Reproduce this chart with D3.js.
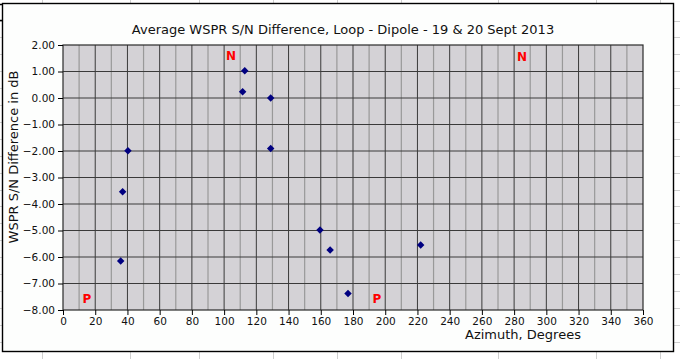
<!DOCTYPE html>
<head>
    <meta charset="UTF-8" />
    <script src="https://d3js.org/d3.v7.min.js"></script>
    <title>WSPR S/N Difference</title>
    <style>
        body { margin: 0; background: #ffffff; }
        text { font-family: "DejaVu Sans", sans-serif; fill: #111; }
    </style>
</head>
<body>
    <div id="my_dataviz"></div>
    <script>
        // data
        const azimuth = [35.8, 37.0, 40.3, 112.8, 111.5, 128.9, 128.9, 159.5, 165.8, 176.9, 222.0]
        const snDiff = [-6.15, -3.54, -1.99, 1.03, 0.24, 0.0, -1.91, -4.98, -5.74, -7.38, -5.55]
        const noteText = ['N', 'N', 'P', 'P']
        const noteAz = [104.3, 284.9, 14.9, 194.9]
        const noteVal = [1.55, 1.52, -7.6, -7.6]
        const xTicks = d3.range(0, 361, 20)
        const yTicks = d3.range(-8, 2.01, 1)

        const W = 680, H = 359
        const margin = { top: 45, right: 37, bottom: 49, left: 63 },
            width = W - margin.left - margin.right,
            height = H - margin.top - margin.bottom

        const root = d3.select('#my_dataviz').append('svg')
            .attr('width', W).attr('height', H)

        // spreadsheet cells peeking out behind the chart frame
        const sheetCols = [42, 130, 199, 273, 337, 401, 498, 596, 660]
        root.append('g').selectAll('line').data(sheetCols).join('line')
            .attr('x1', d => d + 0.5).attr('x2', d => d + 0.5)
            .attr('y1', 0).attr('y2', H)
            .style('stroke', '#cfcfcf')
        root.append('g').selectAll('line').data(d3.range(20.5, H, 16.9)).join('line')
            .attr('x1', 0).attr('x2', W)
            .attr('y1', d => Math.round(d) + 0.5).attr('y2', d => Math.round(d) + 0.5)
            .style('stroke', '#cfcfcf')

        // chart frame
        root.append('rect')
            .attr('x', 2.5).attr('y', 3.5)
            .attr('width', 671).attr('height', 348)
            .style('fill', '#fdfefd')
            .style('stroke', '#000').style('stroke-width', 1.4)
        root.append('path')
            .attr('d', 'M0,4.5H3M0,20.5H3')
            .style('stroke', '#000').style('stroke-width', 1.5)

        const svg = root.append('g')
            .attr('transform', `translate(${margin.left}, ${margin.top})`)

        const x = d3.scaleLinear().domain([0, 360]).range([0, width])
        const y = d3.scaleLinear().domain([-8, 2]).range([height, 0])

        svg.append('rect')
            .attr('width', width).attr('height', height)
            .style('fill', '#d4d2d6')

        // minor vertical grid every 10 degrees
        svg.append('g').selectAll('line').data(d3.range(10, 360, 20)).join('line')
            .attr('x1', d => x(d)).attr('x2', d => x(d))
            .attr('y1', 0).attr('y2', height)
            .style('stroke', '#999').style('stroke-width', 1.2)
        // major grid
        svg.append('g').selectAll('line').data(xTicks.slice(1, -1)).join('line')
            .attr('x1', d => x(d)).attr('x2', d => x(d))
            .attr('y1', 0).attr('y2', height)
            .style('stroke', '#3a3a3a').style('stroke-width', 1)
        svg.append('g').selectAll('line').data(yTicks.slice(1, -1)).join('line')
            .attr('x1', 0).attr('x2', width)
            .attr('y1', d => y(d)).attr('y2', d => y(d))
            .style('stroke', '#3a3a3a').style('stroke-width', 1)

        svg.append('rect')
            .attr('width', width).attr('height', height)
            .style('fill', 'none').style('stroke', '#2a2a2a').style('stroke-width', 1.2)

        // axes
        const xAxis = svg.append('g')
            .attr('transform', `translate(0, ${height})`)
            .call(d3.axisBottom(x).tickValues(xTicks).tickSize(5).tickPadding(3))
        const yAxis = svg.append('g')
            .call(d3.axisLeft(y).tickValues(yTicks).tickSize(5).tickPadding(3)
                .tickFormat(d => d3.format('.2f')(d).replace('-', '\u2212')))
        ;[xAxis, yAxis].forEach(a => {
            a.select('.domain').remove()
            a.selectAll('line').style('stroke', '#000')
            a.selectAll('text').style('font-size', '10.5px')
                .style('font-family', '"DejaVu Sans", sans-serif').style('fill', '#111')
        })

        // points
        const pts = azimuth.map((a, i) => ({ a: a, v: snDiff[i] }))
        svg.append('g').selectAll('path').data(pts).join('path')
            .attr('transform', d => `translate(${x(d.a)}, ${y(d.v)}) rotate(45)`)
            .attr('d', d3.symbol().type(d3.symbolSquare).size(28))
            .style('fill', '#000080')

        // N / P markers
        svg.append('g').selectAll('text').data(noteText).join('text')
            .attr('x', (d, i) => x(noteAz[i]))
            .attr('y', (d, i) => y(noteVal[i]))
            .attr('text-anchor', 'middle')
            .attr('dominant-baseline', 'middle')
            .style('font-size', '12px').style('font-weight', 'bold')
            .style('fill', '#ff0000')
            .text(d => d)

        // title
        root.append('text')
            .attr('x', 343).attr('y', 34)
            .attr('text-anchor', 'middle')
            .style('font-size', '13px')
            .text('Average WSPR S/N Difference, Loop - Dipole - 19 & 20 Sept 2013')

        root.append('text')
            .attr('x', 523).attr('y', 339)
            .attr('text-anchor', 'middle')
            .style('font-size', '13px')
            .text('Azimuth, Degrees')

        root.append('text')
            .attr('transform', 'translate(18, 157) rotate(-90)')
            .attr('text-anchor', 'middle')
            .style('font-size', '13px')
            .text('WSPR S/N Difference in dB')
    </script>
</body>
